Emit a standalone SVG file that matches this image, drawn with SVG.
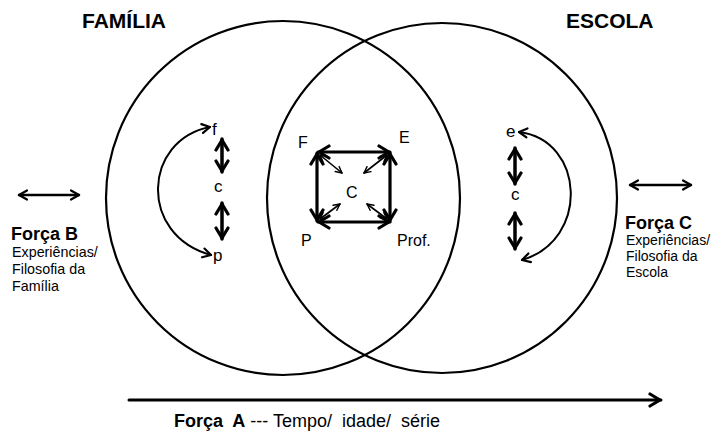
<svg xmlns="http://www.w3.org/2000/svg" width="713" height="433" viewBox="0 0 713 433">
<style>
.t{font-family:"Liberation Sans",Arial,sans-serif;fill:#000;white-space:pre}
.b{font-weight:bold}
.ln{fill:none;stroke:#000;stroke-linecap:round;stroke-linejoin:round}
</style>
<defs>
<marker id="ah" viewBox="0 0 12 12" refX="10" refY="6" markerWidth="12" markerHeight="12" markerUnits="userSpaceOnUse" orient="auto-start-reverse">
<path d="M2,1.5 L10,6 L2,10.5" fill="none" stroke="#000" stroke-width="2.2" stroke-linecap="round" stroke-linejoin="round"/>
</marker>
<marker id="ahB" viewBox="0 0 16 16" refX="14" refY="8" markerWidth="16" markerHeight="16" markerUnits="userSpaceOnUse" orient="auto-start-reverse">
<path d="M3,2 L13,8 L3,14" fill="none" stroke="#000" stroke-width="3.2" stroke-linecap="round" stroke-linejoin="round"/>
</marker>
<marker id="ahS" viewBox="0 0 10 10" refX="9" refY="5" markerWidth="9" markerHeight="9" markerUnits="userSpaceOnUse" orient="auto-start-reverse">
<path d="M2,1.5 L9,5 L2,8.5" fill="none" stroke="#000" stroke-width="1.6" stroke-linecap="round" stroke-linejoin="round"/>
</marker>
</defs>
<rect width="713" height="433" fill="#fff"/>

<g id="familia">
<circle cx="283" cy="198" r="177" fill="none" stroke="#000" stroke-width="2.2"/>
<text class="t b" x="82" y="28" font-size="21">FAMÍLIA</text>
</g>
<g id="escola">
<circle cx="442" cy="198" r="175" fill="none" stroke="#000" stroke-width="2.2"/>
<text class="t b" x="566" y="28" font-size="21">ESCOLA</text>
</g>

<g id="fam-f"><text class="t" x="212" y="135" font-size="17">f</text></g>
<g id="fam-c"><text class="t" x="214" y="192" font-size="17">c</text></g>
<g id="fam-p"><text class="t" x="213" y="261" font-size="17">p</text></g>
<g id="esc-e"><text class="t" x="506" y="137" font-size="17">e</text></g>
<g id="esc-c"><text class="t" x="511" y="200" font-size="17">c</text></g>

<g id="sq-F"><text class="t" x="298" y="148" font-size="16">F</text></g>
<g id="sq-E"><text class="t" x="399" y="143" font-size="16">E</text></g>
<g id="sq-C"><text class="t" x="346" y="198" font-size="16">C</text></g>
<g id="sq-P"><text class="t" x="301" y="246" font-size="16">P</text></g>
<g id="sq-Prof"><text class="t" x="397" y="246" font-size="16">Prof.</text></g>

<g id="forca-b">
<text class="t b" x="11" y="240" font-size="18">Força B</text>
<text class="t" x="12" y="257" font-size="14.3">Experiências/</text>
<text class="t" x="12" y="274" font-size="14.3">Filosofia da</text>
<text class="t" x="12" y="291" font-size="14.3">Família</text>
</g>
<g id="forca-c">
<text class="t b" x="625" y="229" font-size="18">Força C</text>
<text class="t" x="626" y="245" font-size="14">Experiências/</text>
<text class="t" x="626" y="261" font-size="14">Filosofia da</text>
<text class="t" x="626" y="277" font-size="14">Escola</text>
</g>
<g id="forca-a">
<text class="t" x="174" y="427" font-size="18" xml:space="preserve"><tspan class="b">Força  A</tspan> --- Tempo/  idade/  série</text>
</g>

<g id="connectors">
<!-- family -->
<line class="ln" x1="222" y1="139" x2="222" y2="172" stroke-width="3.5" marker-start="url(#ahB)" marker-end="url(#ahB)"/>
<line class="ln" x1="222" y1="203" x2="222" y2="239" stroke-width="3.5" marker-start="url(#ahB)" marker-end="url(#ahB)"/>
<path class="ln" d="M210,127 C143,140 138,235 211,255" stroke-width="2" marker-start="url(#ah)" marker-end="url(#ah)"/>
<!-- school -->
<line class="ln" x1="515" y1="148" x2="515" y2="184" stroke-width="3.5" marker-start="url(#ahB)" marker-end="url(#ahB)"/>
<line class="ln" x1="515" y1="213" x2="515" y2="249" stroke-width="3.5" marker-start="url(#ahB)" marker-end="url(#ahB)"/>
<path class="ln" d="M519,132 C585,140 590,240 522,260" stroke-width="2" marker-start="url(#ah)" marker-end="url(#ah)"/>
<!-- square -->
<line class="ln" x1="318" y1="152" x2="390" y2="152" stroke-width="3.2" marker-start="url(#ahB)" marker-end="url(#ahB)"/>
<line class="ln" x1="318" y1="222" x2="390" y2="222" stroke-width="3.2" marker-start="url(#ahB)" marker-end="url(#ahB)"/>
<line class="ln" x1="317" y1="153" x2="317" y2="221" stroke-width="3.2" marker-start="url(#ahB)" marker-end="url(#ahB)"/>
<line class="ln" x1="390" y1="153" x2="390" y2="221" stroke-width="3.2" marker-start="url(#ahB)" marker-end="url(#ahB)"/>
<line class="ln" x1="320" y1="155" x2="342" y2="173" stroke-width="1.6" marker-start="url(#ahS)" marker-end="url(#ahS)"/>
<line class="ln" x1="387" y1="155" x2="364" y2="173" stroke-width="1.6" marker-start="url(#ahS)" marker-end="url(#ahS)"/>
<line class="ln" x1="320" y1="219" x2="340" y2="204" stroke-width="1.6" marker-start="url(#ahS)" marker-end="url(#ahS)"/>
<line class="ln" x1="387" y1="219" x2="367" y2="204" stroke-width="1.6" marker-start="url(#ahS)" marker-end="url(#ahS)"/>
<!-- forces -->
<line class="ln" x1="19" y1="195" x2="79" y2="195" stroke-width="2.5" marker-start="url(#ah)" marker-end="url(#ah)"/>
<line class="ln" x1="630" y1="185" x2="691" y2="185" stroke-width="2.5" marker-start="url(#ah)" marker-end="url(#ah)"/>
<line class="ln" x1="129" y1="400" x2="661" y2="400" stroke-width="3" marker-end="url(#ahB)"/>
</g>
</svg>
